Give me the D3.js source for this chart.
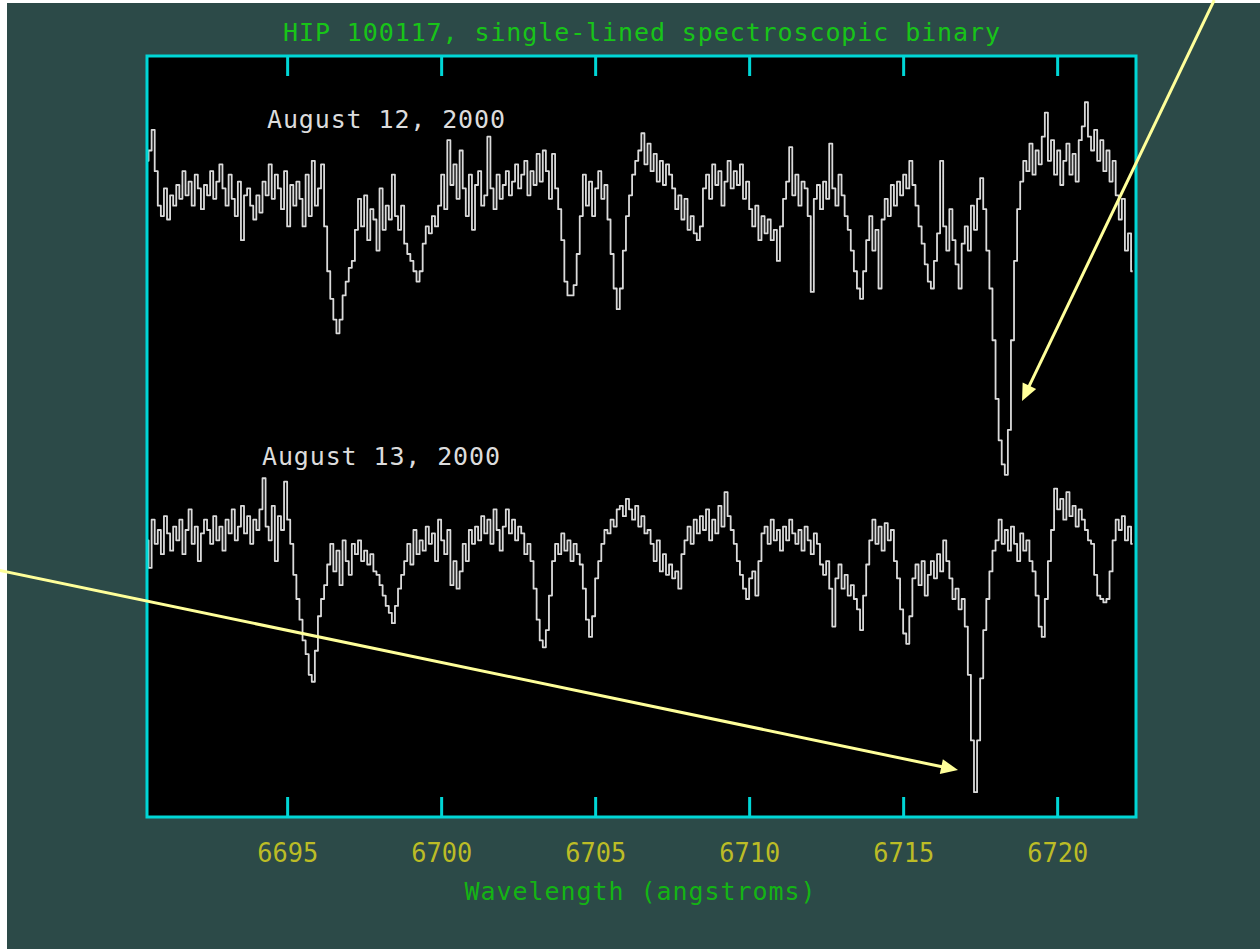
<!DOCTYPE html>
<html>
<head>
<meta charset="utf-8">
<script src="https://cdn.jsdelivr.net/npm/d3@7"></script>
<style>
  html, body { margin:0; padding:0; background:#fff; }
  svg { display:block; }
</style>
</head>
<body>
<div id="chart"></div>
<script>
// wavelength grid of the spectra (angstroms)
const lambdaStart = 6690.45;
const lambdaStep = 0.1;
const tickValues = [6695, 6700, 6705, 6710, 6715, 6720];

// relative flux, percent of continuum
const aug12 = [
  107,110,116,104,94,91,99,90,97,94,
  100,96,104,97,101,94,103,99,93,100,
  97,104,96,101,106,99,94,103,96,91,
  101,84,97,99,94,90,97,92,101,97,
  106,96,103,99,93,104,88,100,94,101,
  96,88,103,91,107,94,99,106,88,75,
  67,61,57,61,68,72,76,78,87,96,
  88,97,84,93,90,81,99,87,94,90,
  103,91,87,94,83,80,78,75,72,75,
  83,88,86,91,88,94,103,93,113,100,
  106,96,110,99,91,103,87,100,104,94,
  97,114,99,93,103,96,100,104,97,101,
  106,99,103,107,97,104,100,109,101,110,
  104,96,109,99,93,84,72,68,68,71,
  80,91,103,94,101,91,99,104,96,100,
  90,80,70,64,70,81,91,97,103,107,
  110,115,106,112,104,109,101,107,100,106,
  103,99,93,97,90,96,87,91,86,84,
  88,99,103,96,106,100,104,94,101,107,
  99,104,100,106,96,101,93,88,94,84,
  91,86,90,84,87,78,88,96,101,111,
  97,103,94,101,99,91,69,96,100,93,
  101,96,112,99,94,103,97,91,87,81,
  75,70,67,75,84,91,81,87,70,90,
  96,91,100,94,101,97,103,99,107,100,
  94,88,83,77,72,70,78,86,107,88,
  81,93,84,77,70,83,88,81,94,87,
  96,102,93,81,70,55,38,26,19,16,
  29,55,78,93,101,107,104,112,103,110,
  106,114,121,107,113,103,110,100,107,112,
  103,109,101,113,117,124,114,110,116,107,
  113,104,110,101,107,97,90,96,81,86,75
];

const aug13 = [
  97,89,103,96,100,93,104,99,94,101,
  97,103,93,100,106,96,101,91,99,103,
  100,96,104,97,101,94,103,99,106,97,
  101,107,99,104,96,103,100,106,115,101,
  97,107,91,104,100,114,103,96,87,80,
  74,68,64,58,56,65,75,80,84,90,
  96,88,94,84,97,91,87,96,93,97,
  91,94,90,93,88,87,84,81,78,76,
  73,78,83,87,91,96,90,100,93,97,
  94,101,96,99,91,103,97,93,100,84,
  91,83,88,96,91,100,96,101,97,104,
  99,103,96,106,100,94,101,106,99,103,
  97,101,99,93,96,91,83,74,68,66,
  71,81,91,96,93,99,94,97,91,96,
  93,90,83,74,69,75,86,91,96,100,
  99,103,101,106,107,104,109,106,103,107,
  101,104,99,100,96,91,97,88,93,87,
  90,86,88,83,93,97,101,96,103,99,
  104,100,106,97,103,99,107,101,111,104,
  100,96,91,87,83,80,86,88,81,91,
  99,101,96,103,97,100,94,101,97,103,
  99,96,100,94,101,97,93,99,96,90,
  87,91,83,72,86,90,83,87,81,84,
  80,77,71,81,90,97,103,96,101,94,
  102,97,100,91,86,77,70,67,75,86,
  90,84,91,81,87,91,86,93,88,97,
  91,86,80,83,77,80,72,58,39,24,
  39,57,71,80,88,94,97,103,96,100,
  94,101,96,91,99,94,97,91,88,81,
  72,69,80,91,100,112,106,109,103,111,
  104,107,101,106,103,100,97,96,87,81,
  80,79,80,88,97,103,100,104,97,101,96
];

const aug12Offset = 100;   // upper spectrum shifted up by one continuum
const dateLabels = ["August 12, 2000", "August 13, 2000"];
const titleText = "HIP 100117, single-lined spectroscopic binary";
const xLabelText = "Wavelength (angstroms)";

// annotation arrows in data units: [lambda, flux]
const arrows = [
  { from:[6725.10, 253.6], to:[6718.86, 137.4] },
  { from:[6685.45, 88.7],  to:[6716.78, 30.4] }
];

const W = 1260, H = 949;
const plot = { left:147, right:1136, top:56, bottom:817 };
const mono = "'DejaVu Sans Mono', 'Liberation Mono', monospace";

const x = d3.scaleLinear().domain([6690.45, 6722.56]).range([plot.left, plot.right]);
const y = d3.scaleLinear().domain([16.8, 237.4]).range([plot.bottom, plot.top]);

const svg = d3.select("#chart").append("svg").attr("width", W).attr("height", H);

// page background (screenshot has a thin white margin top/left)
svg.append("rect").attr("width", W).attr("height", H).attr("fill", "#ffffff");
svg.append("rect").attr("x", 7).attr("y", 3).attr("width", W - 7).attr("height", H - 3).attr("fill", "#2c4a48");

// plot area
svg.append("rect")
  .attr("x", plot.left).attr("y", plot.top)
  .attr("width", plot.right - plot.left).attr("height", plot.bottom - plot.top)
  .attr("fill", "#000");

const line = d3.line()
  .x((d, i) => x(lambdaStart + i * lambdaStep))
  .y(d => y(d))
  .curve(d3.curveStep);

[aug12.map(v => v + aug12Offset), aug13].forEach(s => {
  svg.append("path")
    .datum(s)
    .attr("d", line)
    .attr("fill", "none")
    .attr("stroke", "#dadada")
    .attr("stroke-width", 1.8)
    .attr("stroke-linejoin", "round");
});

// ticks top and bottom, pointing in
const axB = svg.append("g")
  .attr("transform", `translate(0,${plot.bottom})`)
  .call(d3.axisBottom(x).tickValues(tickValues).tickSizeInner(-20).tickSizeOuter(0).tickPadding(27).tickFormat(d3.format("d")));
const axT = svg.append("g")
  .attr("transform", `translate(0,${plot.top})`)
  .call(d3.axisTop(x).tickValues(tickValues).tickSizeInner(-20).tickSizeOuter(0).tickFormat(""));

[axB, axT].forEach(g => {
  g.select(".domain").remove();
  g.selectAll(".tick line").attr("stroke", "#00d6d6").attr("stroke-width", 3);
});
axB.selectAll(".tick text")
  .attr("fill", "#bcbc26")
  .style("font-family", mono)
  .style("font-size", "26px")
  .attr("textLength", 61)
  .attr("lengthAdjust", "spacingAndGlyphs");

// frame
svg.append("rect")
  .attr("x", plot.left).attr("y", plot.top)
  .attr("width", plot.right - plot.left).attr("height", plot.bottom - plot.top)
  .attr("fill", "none")
  .attr("stroke", "#00d6d6")
  .attr("stroke-width", 3);

// titles
svg.append("text")
  .attr("x", 641.5).attr("y", 41)
  .attr("text-anchor", "middle")
  .attr("fill", "#18c418")
  .style("font-family", mono).style("font-size", "25px")
  .attr("textLength", 717).attr("lengthAdjust", "spacing")
  .text(titleText);

svg.append("text")
  .attr("x", 640).attr("y", 900)
  .attr("text-anchor", "middle")
  .attr("fill", "#14b414")
  .style("font-family", mono).style("font-size", "25px")
  .attr("textLength", 351).attr("lengthAdjust", "spacing")
  .text(xLabelText);

svg.selectAll(".date")
  .data(dateLabels)
  .join("text")
  .attr("class", "date")
  .attr("x", (d, i) => [267, 262][i])
  .attr("y", (d, i) => [128, 465][i])
  .attr("fill", "#dcdcdc")
  .style("font-family", mono).style("font-size", "25px")
  .attr("textLength", 238).attr("lengthAdjust", "spacing")
  .text(d => d);

// arrows
const arrowColor = "#ffff9a";
arrows.forEach(a => {
  const x0 = x(a.from[0]), y0 = y(a.from[1]);
  const x1 = x(a.to[0]), y1 = y(a.to[1]);
  const ang = Math.atan2(y1 - y0, x1 - x0);
  const len = 17, half = 7.5;
  const bx = x1 - len * Math.cos(ang), by = y1 - len * Math.sin(ang);
  svg.append("line")
    .attr("x1", x0).attr("y1", y0)
    .attr("x2", bx + 2 * Math.cos(ang)).attr("y2", by + 2 * Math.sin(ang))
    .attr("stroke", arrowColor).attr("stroke-width", 3);
  const px = -Math.sin(ang) * half, py = Math.cos(ang) * half;
  svg.append("path")
    .attr("d", `M${x1},${y1}L${bx + px},${by + py}L${bx - px},${by - py}Z`)
    .attr("fill", arrowColor);
});
</script>
</body>
</html>
